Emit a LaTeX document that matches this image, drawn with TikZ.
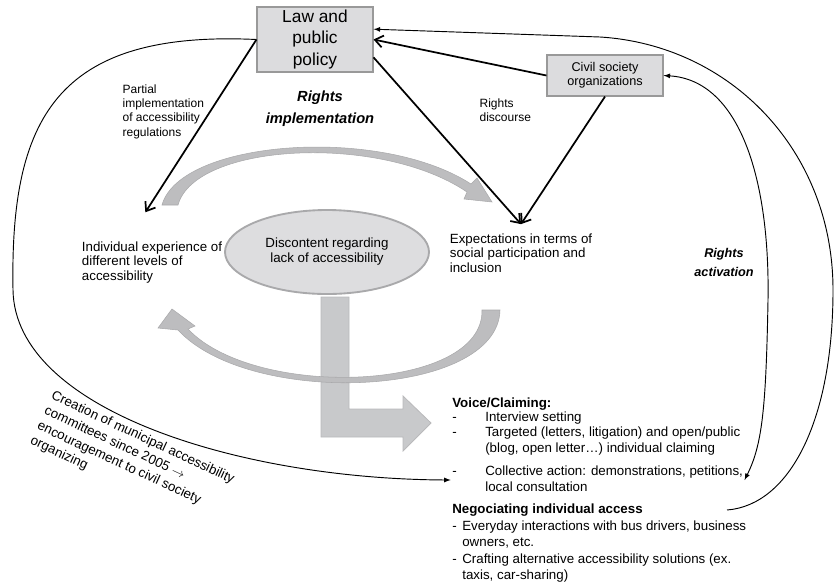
\documentclass[tikz,border=0pt]{standalone}
\usepackage{fontspec}
\setmainfont{Liberation Sans}
\usepackage{tikz}
\usetikzlibrary{arrows,arrows.meta,shapes.geometric}
\usetikzlibrary{calc}
\definecolor{boxfill}{HTML}{DCDCDE}
\definecolor{boxline}{HTML}{999999}
\definecolor{ellipsefill}{HTML}{DDDDDF}
\definecolor{arcgrey}{HTML}{BDBDBF}
\definecolor{arcline}{HTML}{A9A9AB}
\definecolor{lgrey}{HTML}{C8C9CB}
\definecolor{lline}{HTML}{B9B9BB}
\tikzset{
	lawbox/.style={draw=boxline, fill=boxfill, line width=0.8pt, minimum width=87pt, minimum height=48.75pt,
		align=center, inner sep=1pt, font=\fontsize{13}{16}\selectfont},
	orgbox/.style={draw=boxline, fill=boxfill, line width=0.8pt, minimum width=87pt, minimum height=30.75pt,
		align=center, inner sep=1pt, font=\fontsize{9.5}{10.5}\selectfont},
	plaintext/.style={align=left, inner sep=1pt, font=\fontsize{10}{11}\selectfont},
	smalllabel/.style={align=left, inner sep=1pt, font=\fontsize{9}{10.7}\selectfont},
	rightslabel/.style={align=center, inner sep=1pt},
	moodellipse/.style={ellipse, draw=arcline, fill=ellipsefill, line width=1.4pt, minimum width=153pt,
		minimum height=63pt, align=center, inner sep=0pt, font=\fontsize{10}{11.25}\selectfont},
	listitem/.style={anchor=west, inner sep=1pt, font=\fontsize{10}{12}\selectfont},
	listhead/.style={anchor=west, inner sep=1pt, font=\bfseries\fontsize{10}{12}\selectfont},
	thickarrow/.style={-{Straight Barb[length=6pt,width=9pt]}, line width=1.3pt},
	thinarrow/.style={-latex, line width=0.7pt},
	greyarc/.style={fill=arcgrey, draw=arcline, line width=0.4pt},
	greyturn/.style={fill=lgrey, draw=lline, line width=0.6pt},
}

\begin{document}
\begin{tikzpicture}[x=0.75pt, y=-0.75pt]
	\useasboundingbox (0,0) rectangle (834,583);
	% grey cycle and outcome arrows
	\draw[greyturn] (321,297) -- (349,297) -- (349,409) -- (403,409) -- (403,396) -- (431,423)
		-- (403,451) -- (403,437) -- (321,437) -- cycle;
	\draw[greyarc] (162,205) .. controls (180,140) and (380,125) .. (471,184) -- (477,178) -- (492,202)
		-- (464,199) -- (467,192) .. controls (380,133) and (195,143) .. (178,205) -- cycle;
	\draw[greyarc] (500,310) .. controls (498,398) and (250,408) .. (178,330) -- (158,328) -- (172,309)
		-- (195,326) -- (188,329) .. controls (255,400) and (484,392) .. (482,310) -- cycle;

	\node[lawbox] (law) at (315,39.5) {Law and\\public\\policy};
	\node[orgbox] (civil) at (605,75.5) {Civil society\\organizations};
	\node[plaintext, outer ysep=21pt] (indiv) at (152,262.5) {Individual experience of\\different levels of\\accessibility};
	\node[plaintext, outer ysep=6pt] (expect) at (521,253) {Expectations in terms of\\social participation and\\inclusion};
	\node[moodellipse] (discontent) at (327,252) {Discontent regarding\\lack of accessibility};

	\node[smalllabel, anchor=west] (partial) at (121,111.5) {Partial\\implementation\\of accessibility\\regulations};
	\node[rightslabel, font=\bfseries\itshape\fontsize{11}{16.5}\selectfont] (implement) at (320,109) {Rights\\implementation};
	\node[smalllabel, anchor=west] (discourse) at (478,110) {Rights\\discourse};
	\node[rightslabel, font=\bfseries\itshape\fontsize{9.5}{14.2}\selectfont] (activation) at (724,262.5) {Rights\\activation};
	\node[smalllabel, rotate=-25, anchor=north west, font=\fontsize{10}{12.4}\selectfont] (creation) at (54,388)
		{Creation of municipal accessibility\\committees since 2005 $\rightarrow$\\encouragement to civil society\\organizing};

	\node[listhead] (voicehead) at (450.7,404) {Voice/Claiming:};
	\node[listitem] (interview) at (450.7,418.5) {\begin{tabular}{@{}p{24.75pt}@{}l@{}}-&Interview setting\end{tabular}};
	\node[listitem] (targeted) at (450.7,441) {\begin{tabular}{@{}p{24.75pt}@{}l@{}}-&Targeted (letters, litigation) and open/public\\&(blog, open letter…) individual claiming\end{tabular}};
	\node[listitem] (collective) at (450.7,480) {\begin{tabular}{@{}p{24.75pt}@{}l@{}}-&Collective action: demonstrations, petitions,\\&local consultation\end{tabular}};
	\node[listhead] (negochead) at (450.7,510) {Negociating individual access};
	\node[listitem] (everyday) at (450.7,535) {\begin{tabular}{@{}p{7.5pt}@{}l@{}}-&Everyday interactions with bus drivers, business\\&owners, etc.\end{tabular}};
	\node[listitem] (crafting) at (450.7,568) {\begin{tabular}{@{}p{7.5pt}@{}l@{}}-&Crafting alternative accessibility solutions (ex.\\&taxis, car-sharing)\end{tabular}};

	% implementation / discourse arrows
	\draw[thickarrow] (law.west) -- ([xshift=-5pt]indiv.north);
	\draw[thickarrow] (law.-17) -- (expect.north);
	\draw[thickarrow] (civil.south) -- (expect.north);
	\draw[thickarrow] (civil.west) -- (law.east);

	% activation loops
	\draw[thinarrow] (law.west) .. controls (55,30) and (10,120) .. (13,290)
		.. controls (15,410) and (240,479) .. (collective.west);
	\draw[thinarrow, latex-latex] (civil.east) .. controls (740,80) and (770,180) .. (768,300)
		.. controls (766,410) and (762,445) .. (collective.east);
	\draw[thinarrow] ([xshift=62pt]negochead.east) .. controls (790,505) and (833,420) .. (833,290)
		.. controls (833,150) and (730,45) .. (600,37) -- (law.10);
\end{tikzpicture}
\end{document}
